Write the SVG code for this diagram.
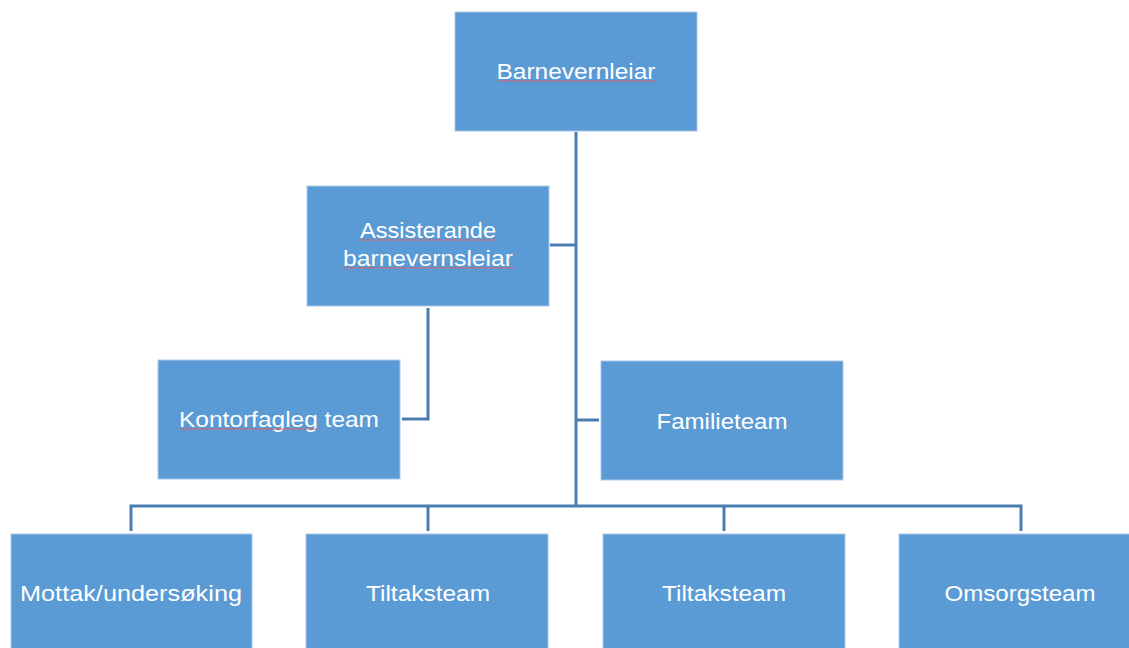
<svg xmlns="http://www.w3.org/2000/svg" width="1129" height="648" viewBox="0 0 1129 648">
<style>
.box{fill:#5B9BD5;stroke:#A9C8E8;stroke-width:1}
.lbl{font-family:"Liberation Sans",Arial,sans-serif;font-size:22px;fill:#FFFFFF;text-anchor:middle}
.con{fill:none;stroke:#4A7EB0;stroke-width:3}
.spell{fill:none;stroke:#D9606E;stroke-width:1}
</style>
<rect width="1129" height="648" fill="#FFFFFF"/>
<g id="connectors">
<path class="con" d="M576,132 V506"/>
<path class="con" d="M550,245 H576"/>
<path class="con" d="M576,420 H599"/>
<path class="con" d="M428,308 V419 H402"/>
<path class="con" d="M131,531 V506 H1021 V531"/>
<path class="con" d="M428,506 V531"/>
<path class="con" d="M724,506 V531"/>
</g>
<g id="n-barnevernleiar">
<rect class="box" x="455" y="12" width="242" height="119"/>
<text class="lbl" x="576" y="79" textLength="159" lengthAdjust="spacingAndGlyphs">Barnevernleiar</text>
<path class="spell" d="M497,81 H656"/>
</g>
<g id="n-assisterande">
<rect class="box" x="307" y="186" width="242" height="120"/>
<text class="lbl" x="428" y="238" textLength="136" lengthAdjust="spacingAndGlyphs">Assisterande</text>
<text class="lbl" x="428" y="266" textLength="170" lengthAdjust="spacingAndGlyphs">barnevernsleiar</text>
<path class="spell" d="M360,240 H496 M343,268 H513"/>
</g>
<g id="n-kontorfagleg">
<rect class="box" x="158" y="360" width="242" height="119"/>
<text class="lbl" x="279" y="427" textLength="200" lengthAdjust="spacingAndGlyphs">Kontorfagleg team</text>
<path class="spell" d="M179,429 H317"/>
</g>
<g id="n-familieteam">
<rect class="box" x="601" y="361" width="242" height="119"/>
<text class="lbl" x="722" y="429" textLength="131" lengthAdjust="spacingAndGlyphs">Familieteam</text>
</g>
<g id="n-mottak">
<rect class="box" x="11" y="534" width="241" height="119"/>
<text class="lbl" x="131" y="601" textLength="222" lengthAdjust="spacingAndGlyphs">Mottak/undersøking</text>
</g>
<g id="n-tiltak1">
<rect class="box" x="306" y="534" width="242" height="119"/>
<text class="lbl" x="428" y="601" textLength="124" lengthAdjust="spacingAndGlyphs">Tiltaksteam</text>
</g>
<g id="n-tiltak2">
<rect class="box" x="603" y="534" width="242" height="119"/>
<text class="lbl" x="724" y="601" textLength="124" lengthAdjust="spacingAndGlyphs">Tiltaksteam</text>
</g>
<g id="n-omsorg">
<rect class="box" x="899" y="534" width="242" height="119"/>
<text class="lbl" x="1020" y="601" textLength="151" lengthAdjust="spacingAndGlyphs">Omsorgsteam</text>
</g>
</svg>
